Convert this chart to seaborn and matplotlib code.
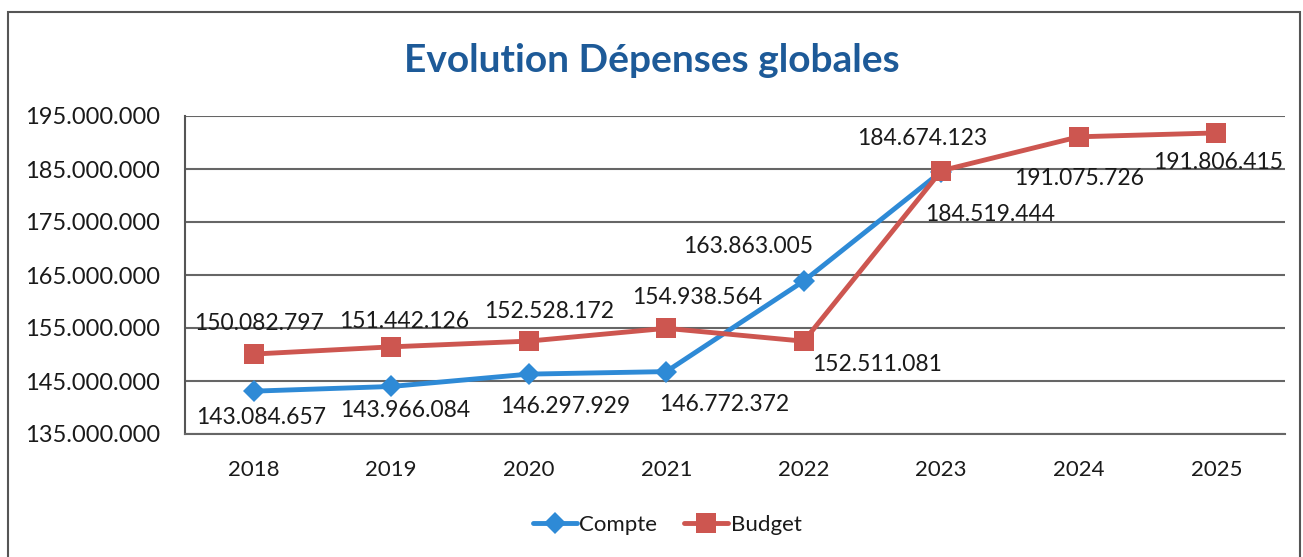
import pandas as pd
import matplotlib.pyplot as plt
import seaborn as sns
from matplotlib.patches import Rectangle
from matplotlib.ticker import FuncFormatter

# --- données ---
annees = ['2018', '2019', '2020', '2021', '2022', '2023', '2024', '2025']
compte = [143084657, 143966084, 146297929, 146772372, 163863005, 184519444]
budget = [150082797, 151442126, 152528172, 154938564, 152511081, 184674123, 191075726, 191806415]
graduations = [135000000, 145000000, 155000000, 165000000, 175000000, 185000000, 195000000]

# décalages des étiquettes (points)
off_compte = [(5, -19), (10, -17), (26, -23), (42, -24), (-40, 25), (35, -31)]
off_budget = [(4, 22), (9, 18), (15, 21), (22, 22), (53, -17), (-14, 23), (0, -30), (1, -21)]

df = pd.concat([
    pd.DataFrame({'Annee': annees[:len(compte)], 'Montant': compte, 'Serie': 'Compte'}),
    pd.DataFrame({'Annee': annees, 'Montant': budget, 'Serie': 'Budget'}),
])

sns.set_style('white')
plt.rcParams['font.family'] = ['Lato', 'DejaVu Sans']

bleu = '#2e8ad6'
rouge = '#cd5650'
texte = '#1a1a1a'

fig = plt.figure(figsize=(13.03, 5.57), dpi=100)
ax = fig.add_axes([185 / 1303, 1 - 434 / 557, 1100 / 1303, 318 / 557])

sns.lineplot(data=df, x='Annee', y='Montant', hue='Serie', style='Serie',
             hue_order=['Compte', 'Budget'], palette=[bleu, rouge],
             markers={'Compte': 'D', 'Budget': 's'}, dashes=False,
             linewidth=3.5, markeredgewidth=0, sort=False, legend=False, ax=ax)
ax.lines[0].set_markersize(11)
ax.lines[1].set_markersize(14)

fmt = lambda v: f'{v:,.0f}'.replace(',', '.')

for i, v in enumerate(compte):
    ax.annotate(fmt(v), (i, v), xytext=off_compte[i], textcoords='offset points',
                ha='center', va='center', fontsize=16.5, color=texte)
for i, v in enumerate(budget):
    ax.annotate(fmt(v), (i, v), xytext=off_budget[i], textcoords='offset points',
                ha='center', va='center', fontsize=16.5, color=texte)

ax.set_xlim(-0.5, 7.5)
ax.set_ylim(graduations[0], graduations[-1])
ax.set_yticks(graduations)
ax.yaxis.set_major_formatter(FuncFormatter(lambda v, p: fmt(v)))
ax.grid(axis='y', color='#666666', linewidth=1.5)
ax.set_axisbelow(True)
for s in ['top', 'right']:
    ax.spines[s].set_visible(False)
ax.spines['left'].set_color('#555555')
ax.spines['left'].set_linewidth(1.5)
ax.spines['bottom'].set_color('#666666')
ax.spines['bottom'].set_linewidth(1.5)
ax.tick_params(axis='y', length=0, pad=18, labelsize=17, labelcolor=texte)
ax.tick_params(axis='x', length=0, pad=19, labelsize=16, labelcolor=texte)
ax.set_xlabel('')
ax.set_ylabel('')

fig.text(0.5, 1 - 60 / 557, 'Evolution Dépenses globales', ha='center', va='center',
         fontsize=28, fontweight='bold', color='#1d5a98')

fig.legend(handles=[ax.lines[0], ax.lines[1]], labels=['Compte', 'Budget'],
           loc='center', bbox_to_anchor=(667 / 1303, 1 - 525 / 557), ncol=2,
           frameon=False, fontsize=16, handlelength=2.0, handletextpad=0.1,
           columnspacing=1.2, labelcolor=texte)

fig.patches.append(Rectangle((8 / 1303, -0.02), 1292 / 1303, 1.02 - 12 / 557,
                             transform=fig.transFigure, fill=False,
                             edgecolor='#555555', linewidth=1.5))

plt.savefig('out.png', dpi=100)
